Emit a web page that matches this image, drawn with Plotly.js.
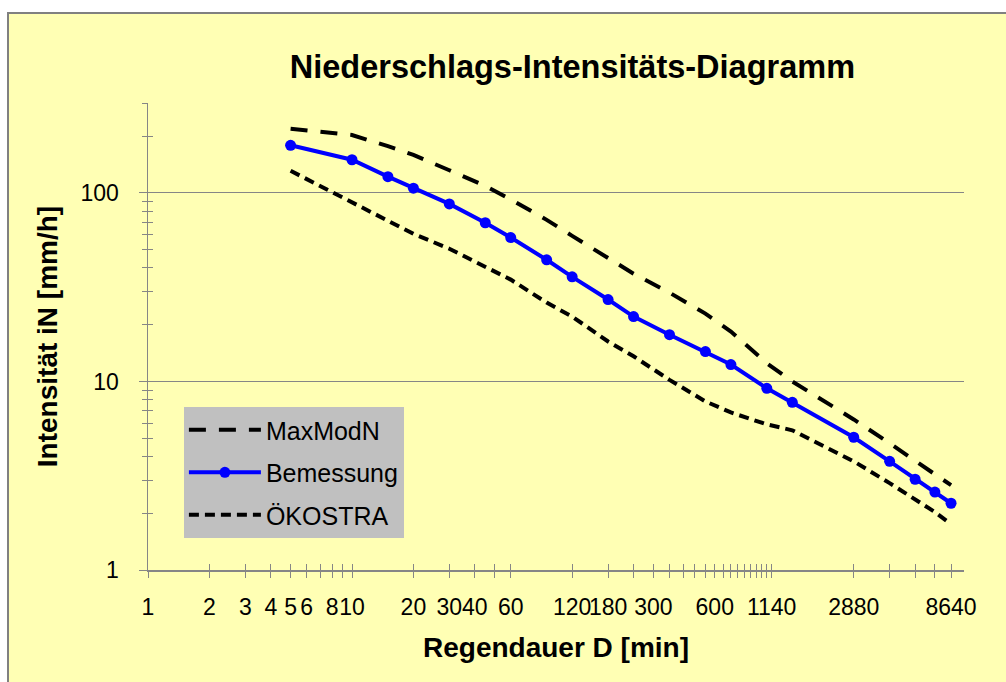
<!DOCTYPE html>
<html><head><meta charset="utf-8">
<script src="https://cdn.plot.ly/plotly-3.0.1.min.js"></script>
<style>
html,body{margin:0;padding:0;width:1006px;height:682px;overflow:hidden;background:#fff;}
#frame{position:absolute;left:7px;top:12px;width:1010px;height:690px;background:#FFFFB4;border:2px solid #808080;box-sizing:border-box;}
#chart{position:absolute;left:0;top:0;width:1006px;height:682px;}
</style></head><body>
<div id="frame"></div><div id="chart"></div>
<script>
const durations = [5,10,15,20,30,45,60,90,120,180,240,360,540,720,1080,1440,2880,4320,5760,7200,8640];
const bemessung = [179,150,122,106,87.5,69.5,58,44.2,35.9,27.2,22.1,17.7,14.4,12.3,9.2,7.75,5.06,3.77,3.03,2.59,2.26];
const maxModN = [219,203,177,159,132,109,92.4,72,59.2,44.8,37.3,29.6,22.9,18.4,12.5,10,6.29,4.7,3.77,3.22,2.82];
const oekostra = [131,89.6,71.5,60.7,50.6,40.6,34.7,26.2,22.1,16.3,13.6,10.2,7.84,6.85,5.92,5.51,3.77,2.89,2.35,2.03,1.75];
const xTickVals = [1,2,3,4,5,6,7,8,9,10,20,30,40,50,60,120,180,240,300,360,420,480,540,600,660,720,780,840,900,960,1020,1080,1140,2880,4320,5760,7200,8640];
const xTickLabels = ['1','2','3','4','5','6','','8','','10','20','30','40','','60','120','180','','300','','','','','600','','','','','','','','','1140','2880','','','','8640'];
const yTickVals = [1,10,100];
const yTickLabels = ['1','10','100'];
const yMinorVals = [2,3,4,5,6,7,8,9,20,30,40,50,60,70,80,90,200,300];

const FONT = 'Arial, "Liberation Sans", sans-serif';
const AX = '#868686';

const traces = [
  {x: durations, y: maxModN, name: 'MaxModN', mode: 'lines', legendgroup: 'a',
   line: {color: '#000', width: 4, dash: '17px,13px'}},
  {x: durations, y: bemessung, name: 'Bemessung', mode: 'lines+markers', legendgroup: 'b',
   line: {color: '#0000FF', width: 4}, marker: {color: '#0000FF', size: 11}},
  {x: durations, y: oekostra, name: 'ÖKOSTRA', mode: 'lines', legendgroup: 'c',
   line: {color: '#000', width: 4, dash: '10px,6px'}},
  {x: [durations[0]], y: [bemessung[0]], xaxis: 'x2', yaxis: 'y2', mode: 'markers',
   marker: {opacity: 0}, showlegend: false, hoverinfo: 'skip'}
];

const layout = {
  width: 1006, height: 682,
  margin: {l: 148, r: 42, t: 103, b: 112},
  paper_bgcolor: 'rgba(0,0,0,0)', plot_bgcolor: 'rgba(0,0,0,0)',
  font: {family: FONT, color: '#000', size: 23},
  showlegend: true,
  title: {text: '<b>Niederschlags-Intensitäts-Diagramm</b>', font: {family: FONT, size: 32.5, color: '#000'},
          x: 0.569, xanchor: 'center', xref: 'container', y: 0.902, yanchor: 'middle', yref: 'container'},
  xaxis: {type: 'log', range: [0, 4], autorange: false,
          tickmode: 'array', tickvals: xTickVals, ticktext: xTickLabels, tickangle: 0,
          ticks: 'outside', ticklen: 6, tickcolor: AX, tickwidth: 1,
          showline: true, linecolor: AX, linewidth: 1.5, showgrid: false, zeroline: false,
          tickfont: {family: FONT, size: 23, color: '#000'}, ticklabelstandoff: 10,
          title: {text: '<b>Regendauer D [min]</b>', font: {family: FONT, size: 28, color: '#000'}, standoff: 18}},
  yaxis: {type: 'log', range: [0, Math.log10(300)], autorange: false,
          tickmode: 'array', tickvals: yTickVals, ticktext: yTickLabels,
          ticks: 'outside', ticklen: 8, tickcolor: AX, tickwidth: 1,
          minor: {tickmode: 'array', tickvals: yMinorVals, ticks: 'outside', ticklen: 5, tickcolor: AX, showgrid: false},
          showline: true, linecolor: AX, linewidth: 1.5, showgrid: true, gridcolor: AX, gridwidth: 1, zeroline: false,
          tickfont: {family: FONT, size: 23, color: '#000'}, ticklabelstandoff: 15,
          title: {text: '<b>Intensität iN [mm/h]</b>', font: {family: FONT, size: 28, color: '#000'}, standoff: 14}},
  xaxis2: {type: 'log', range: [0, 4], autorange: false, overlaying: 'x', anchor: 'y', side: 'bottom',
           tickmode: 'array', tickvals: xTickVals, ticks: 'inside', ticklen: 6, tickcolor: AX,
           showticklabels: false, showgrid: false, showline: false, zeroline: false},
  yaxis2: {type: 'log', range: [0, Math.log10(300)], autorange: false, overlaying: 'y', anchor: 'x', side: 'left',
           tickmode: 'array', tickvals: yMinorVals, ticks: 'inside', ticklen: 5, tickcolor: AX,
           showticklabels: false, showgrid: false, showline: false, zeroline: false},
  legend: {x: 0.044, y: 0.349, xanchor: 'left', yanchor: 'top', bgcolor: '#C0C0C0', borderwidth: 0,
           font: {family: FONT, size: 25, color: '#000'}, tracegroupgap: 7, itemwidth: 72}
};

Plotly.newPlot('chart', traces, layout, {displayModeBar: false, staticPlot: true});
</script>
</body></html>
